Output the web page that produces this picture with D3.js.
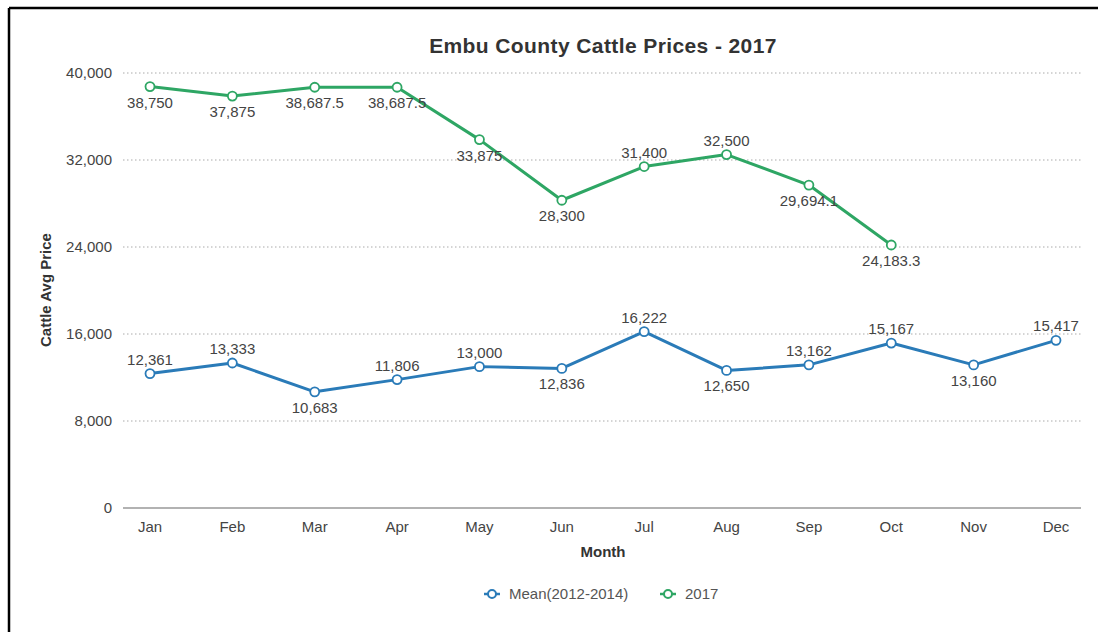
<!DOCTYPE html>
<html><head><meta charset="utf-8">
<script src="https://cdn.jsdelivr.net/npm/d3@7"></script>
<style>body{margin:0;background:#fff;}svg{display:block;font-family:"Liberation Sans",Arial,sans-serif;}</style>
</head><body>
<svg id="c" width="1098" height="632"></svg>
<script>
const months = ["Jan","Feb","Mar","Apr","May","Jun","Jul","Aug","Sep","Oct","Nov","Dec"];
const meanValues = [12361,13333,10683,11806,13000,12836,16222,12650,13162,15167,13160,15417];
const meanLabelPos = ["above","above","below","above","above","below","above","below","above","above","below","above"];
const y2017Values = [38750,37875,38687.5,38687.5,33875,28300,31400,32500,29694.1,24183.3,null,null];
const y2017LabelPos = ["below","below","below","below","below","below","above","above","below","below",null,null];
const yTicks = [0,8000,16000,24000,32000,40000];
const seriesNames = ["Mean(2012-2014)","2017"];

const svg = d3.select("#c");
const W=1098,H=632;
// frame
svg.append("line").attr("x1",9).attr("y1",8).attr("x2",W).attr("y2",8).attr("stroke","#000").attr("stroke-width",2.5);
svg.append("line").attr("x1",9).attr("y1",8).attr("x2",9).attr("y2",H).attr("stroke","#000").attr("stroke-width",2.5);

const plotL=123, plotR=1081, plotT=73, plotB=508;
const x = d3.scalePoint().domain(months).range([150,1056]);
const y = d3.scaleLinear().domain([0,40000]).range([plotB,plotT]);

// grid
svg.append("g").selectAll("line").data(yTicks.filter(d=>d>0)).join("line")
  .attr("x1",plotL).attr("x2",plotR).attr("y1",d=>y(d)).attr("y2",d=>y(d))
  .attr("stroke","#aaa").attr("stroke-width",1).attr("stroke-dasharray","1.5,2.5");
svg.append("line").attr("x1",plotL).attr("x2",plotR).attr("y1",y(0)).attr("y2",y(0)).attr("stroke","#999").attr("stroke-width",1.5);

const FS = 15;
// y axis labels
const fmt = d3.format(",");
svg.append("g").selectAll("text").data(yTicks).join("text")
  .attr("x",112).attr("y",d=>y(d)+5).attr("text-anchor","end")
  .attr("font-size",FS).attr("fill","#444").text(d=>fmt(d));
// x axis labels
svg.append("g").selectAll("text").data(months).join("text")
  .attr("x",d=>x(d)).attr("y",532).attr("text-anchor","middle")
  .attr("font-size",FS).attr("fill","#444").text(d=>d);

// titles
svg.append("text").attr("x",603).attr("y",53).attr("text-anchor","middle").attr("font-size",21).attr("letter-spacing",0.4).attr("font-weight","bold").attr("fill","#333").text("Embu County Cattle Prices - 2017");
svg.append("text").attr("x",603).attr("y",557).attr("text-anchor","middle").attr("font-size",FS).attr("font-weight","bold").attr("fill","#333").text("Month");
svg.append("text").attr("transform","translate(51,290) rotate(-90)").attr("text-anchor","middle").attr("font-size",FS).attr("font-weight","bold").attr("fill","#333").text("Cattle Avg Price");

const colors = ["#2a7bb8","#2ea664"];
const series = [
  {name:seriesNames[0], vals:meanValues, pos:meanLabelPos, color:colors[0]},
  {name:seriesNames[1], vals:y2017Values, pos:y2017LabelPos, color:colors[1]}
];
const line = d3.line().defined(d=>d.v!=null).x(d=>x(d.m)).y(d=>y(d.v));
const numFmt = v => d3.format(",")(v);
series.forEach(s=>{
  const data = months.map((m,i)=>({m,v:s.vals[i],p:s.pos[i]}));
  svg.append("path").datum(data).attr("d",line).attr("fill","none").attr("stroke",s.color).attr("stroke-width",3).attr("stroke-linejoin","round");
  const pts = data.filter(d=>d.v!=null);
  svg.append("g").selectAll("circle").data(pts).join("circle")
    .attr("cx",d=>x(d.m)).attr("cy",d=>y(d.v)).attr("r",4.5)
    .attr("fill","#fff").attr("stroke",s.color).attr("stroke-width",1.8);
  svg.append("g").selectAll("text").data(pts).join("text")
    .attr("x",d=>x(d.m)).attr("y",d=>d.p==="above"? y(d.v)-9 : y(d.v)+21)
    .attr("text-anchor","middle").attr("font-size",FS).attr("fill","#444")
    .text(d=>numFmt(d.v));
});

// legend
const leg = [{x:492,name:seriesNames[0],c:colors[0]},{x:668,name:seriesNames[1],c:colors[1]}];
leg.forEach(l=>{
  svg.append("line").attr("x1",l.x-8).attr("x2",l.x+8).attr("y1",594).attr("y2",594).attr("stroke",l.c).attr("stroke-width",2.5);
  svg.append("circle").attr("cx",l.x).attr("cy",594).attr("r",4).attr("fill","#fff").attr("stroke",l.c).attr("stroke-width",2);
  svg.append("text").attr("x",l.x+17).attr("y",599).attr("font-size",FS).attr("fill","#555").text(l.name);
});
</script>
</body></html>
